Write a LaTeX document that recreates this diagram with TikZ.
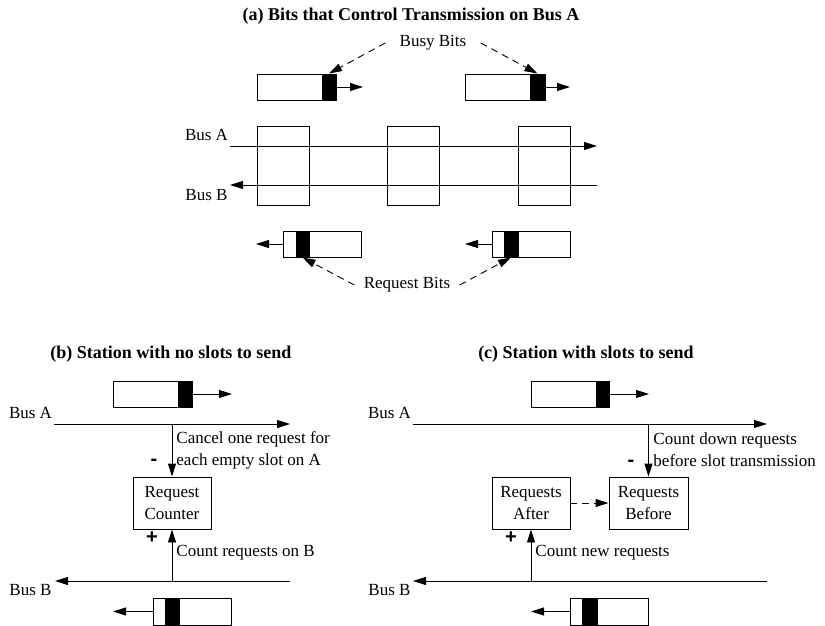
\documentclass[tikz,border=0pt]{standalone}
\usepackage{fontspec}
\setmainfont{Liberation Serif}
\newfontfamily\signfont{Liberation Sans}
\usetikzlibrary{arrows.meta}
\begin{document}
\begin{tikzpicture}[x=1pt,y=-1pt,line width=0.9pt,
  every node/.style={font=\fontsize{17}{22}\selectfont, inner sep=0pt},
  cell/.style={draw, rectangle, minimum height=26pt},
  bit/.style={draw, fill=black, rectangle, minimum height=26pt},
  station/.style={draw, rectangle, minimum width=52pt, minimum height=79pt},
  counter/.style={draw, rectangle, minimum width=78pt, minimum height=52pt, align=center},
  title/.style={font=\fontsize{18}{22}\selectfont\bfseries},
  sign/.style={font=\fontsize{20}{22}\selectfont\signfont\bfseries},
  note/.style={anchor=west, align=left},
  arr/.style={-{Triangle[length=13pt,width=8pt]}},
  darr/.style={arr, dashed, dash pattern=on 7pt off 5pt}]
\useasboundingbox (0,0) rectangle (825,626);

% ---------------- (a) control bits on bus A ----------------
\node[title] (ta) at (411,16) {(a) Bits that Control Transmission on Bus A};
\node[inner xsep=14pt] (busy) at (433,43) {Busy Bits};

% busy-bit cells travelling on bus A
\node[cell, minimum width=79pt] (c1) at (296.5,87) {};
\node[bit, minimum width=14pt] (b1) at (329,87) {};
\coordinate (e1) at (363,87);
\draw[arr] (b1.east) -- (e1);
\node[cell, minimum width=80pt] (c2) at (505,87) {};
\node[bit, minimum width=15pt] (b2) at (537.5,87) {};
\coordinate (e2) at (570,87);
\draw[arr] (b2.east) -- (e2);
\draw[darr] (busy.west) -- (b1.north);
\draw[darr] (busy.east) -- (b2.north);

% the two buses and the stations on them
\node (la) at (206.5,135) {Bus A};
\node (lb) at (206.5,195) {Bus B};
\coordinate (a0) at (230,146);
\coordinate (a1) at (597,146);
\coordinate (b0) at (597,185);
\coordinate (b9) at (230,185);
\node[station] (s1) at (283,165.5) {};
\node[station] (s2) at (413,165.5) {};
\node[station] (s3) at (544,165.5) {};
\draw[arr] (a0) -- (a1);
\draw[arr] (b0) -- (b9);

% request-bit cells travelling on bus B
\node[cell, minimum width=78pt] (c3) at (322,244) {};
\node[bit, minimum width=13pt] (b3) at (302.5,244) {};
\coordinate (e3) at (256,244);
\draw[arr] (c3.west) -- (e3);
\node[cell, minimum width=78pt] (c4) at (531,244) {};
\node[bit, minimum width=14pt] (b4) at (511,244) {};
\coordinate (e4) at (465,244);
\draw[arr] (c4.west) -- (e4);
\node[inner xsep=9pt] (req) at (407,285) {Request Bits};
\draw[darr] (req.west) -- (b3.south);
\draw[darr] (req.east) -- (b4.south);

% ---------------- (b) station with no slots to send ----------------
\node[title] (tb) at (171,354) {(b) Station with no slots to send};
\node[cell, minimum width=79pt] (c5) at (152.5,394) {};
\node[bit, minimum width=14pt] (b5) at (185,394) {};
\coordinate (e5) at (232,394);
\draw[arr] (b5.east) -- (e5);
\node (la2) at (30.5,413) {Bus A};
\coordinate (a20) at (54,424);
\coordinate (a21) at (290,424);
\draw[arr] (a20) -- (a21);
\node[counter] (rc) at (172,503) {Request\\Counter};
\coordinate (ta2) at (172,424);
\draw[arr] (ta2) -- (rc.north);
\node[note] (n1) at (176,450) {Cancel one request for\\each empty slot on A};
\node[sign] (m1) at (154,462) {-};
\node[sign] (p1) at (152,538) {+};
\node (lb2) at (30.5,590) {Bus B};
\coordinate (b20) at (290,581);
\coordinate (b21) at (55,581);
\draw[arr] (b20) -- (b21);
\coordinate (tb2) at (172,581);
\draw[arr] (tb2) -- (rc.south);
\node[note] (n2) at (176,553) {Count requests on B};
\node[cell, minimum width=78pt, minimum height=27pt] (c6) at (192,611.5) {};
\node[bit, minimum width=14pt, minimum height=27pt] (b6) at (172,611.5) {};
\coordinate (e6) at (113,611.5);
\draw[arr] (c6.west) -- (e6);

% ---------------- (c) station with slots to send ----------------
\node[title] (tc) at (586,354) {(c) Station with slots to send};
\node[cell, minimum width=78pt] (c7) at (570,394) {};
\node[bit, minimum width=13pt] (b7) at (602.5,394) {};
\coordinate (e7) at (649,394);
\draw[arr] (b7.east) -- (e7);
\node (la3) at (389.5,413) {Bus A};
\coordinate (a30) at (413,424);
\coordinate (a31) at (767,424);
\draw[arr] (a30) -- (a31);
\node[counter, minimum width=79pt] (rbf) at (648.5,503) {Requests\\Before};
\node[counter] (raf) at (531,503) {Requests\\After};
\coordinate (ta3) at (648.5,424);
\draw[arr] (ta3) -- (rbf.north);
\draw[darr] (raf.east) -- (rbf.west);
\node[note] (n3) at (653,450) {Count down requests\\before slot transmission};
\node[sign] (m2) at (631,463) {-};
\node[sign] (p2) at (511,538) {+};
\node (lb3) at (389.5,590) {Bus B};
\coordinate (b30) at (767,581);
\coordinate (b31) at (413,581);
\draw[arr] (b30) -- (b31);
\coordinate (tb3) at (531,581);
\draw[arr] (tb3) -- (raf.south);
\node[note] (n4) at (535,553) {Count new requests};
\node[cell, minimum width=78pt, minimum height=27pt] (c8) at (609,611.5) {};
\node[bit, minimum width=15pt, minimum height=27pt] (b8) at (589.5,611.5) {};
\coordinate (e8) at (531,611.5);
\draw[arr] (c8.west) -- (e8);
\end{tikzpicture}
\end{document}
